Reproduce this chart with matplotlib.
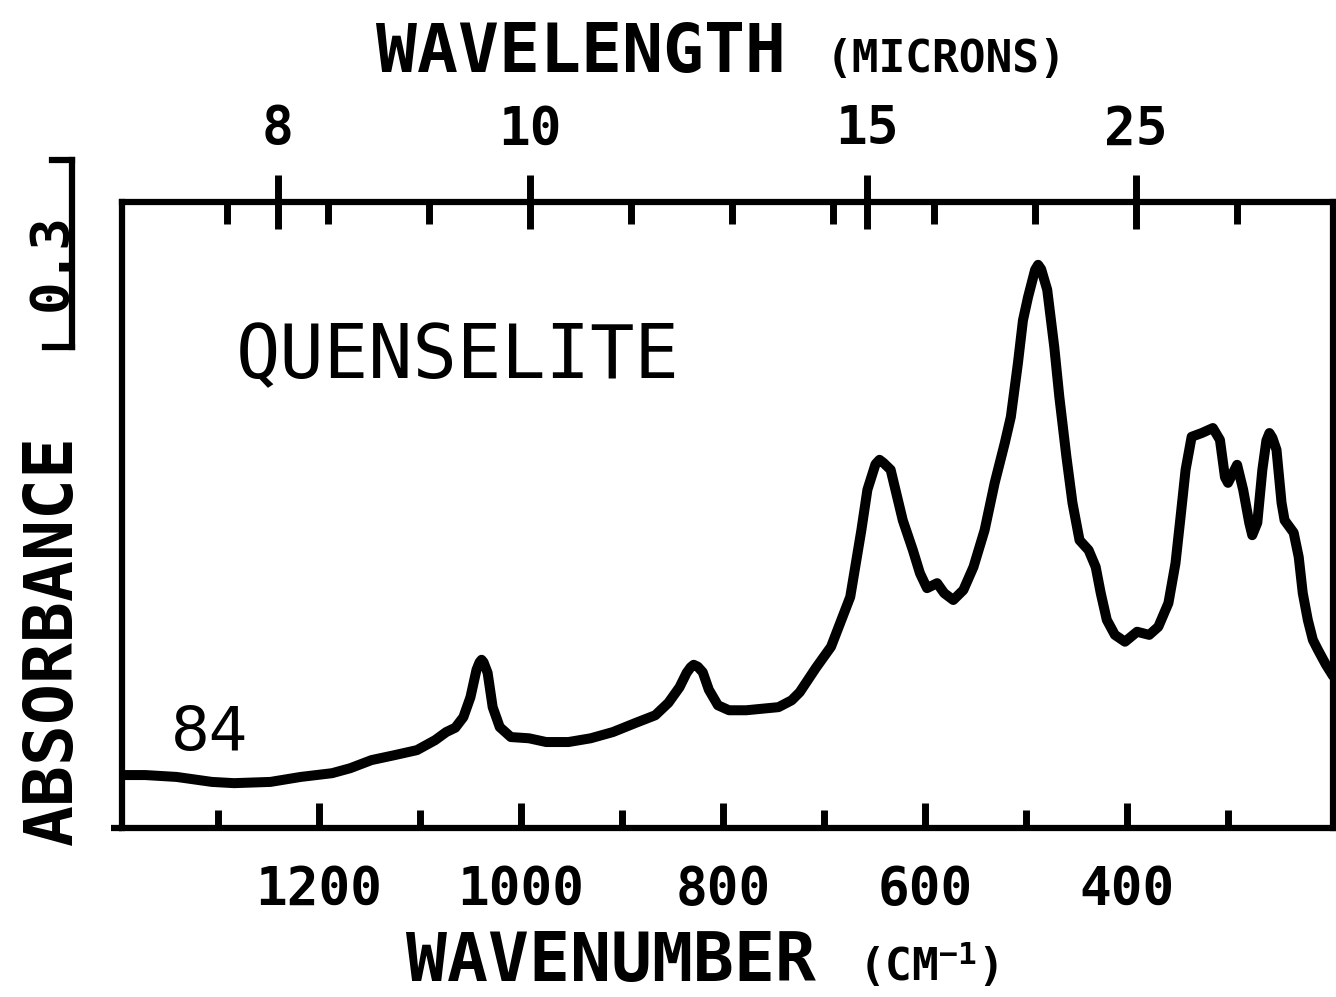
import matplotlib
matplotlib.use("Agg")
import matplotlib.pyplot as plt
import matplotlib.transforms as mtransforms

# Data (wavenumber in cm-1, absorbance)
wavenumber = [1396, 1372, 1341, 1306, 1284, 1248, 1218, 1187, 1169, 1148,
              1125, 1103, 1085, 1074, 1065, 1057, 1050, 1044, 1041, 1039, 1037, 1033,
              1028, 1021, 1010, 992, 975, 953, 931, 909, 886, 867,
              854, 843, 836, 832, 829, 825, 820, 814, 805, 794, 777, 745,
              732, 724, 708, 693, 674, 663, 657, 649, 645, 641, 634, 622,
              612, 605, 598, 588, 581, 572, 562, 552, 541, 531,
              521, 515, 508, 503, 498, 491, 488, 485, 479, 472, 467, 460,
              454, 447, 438, 431, 426, 420, 412, 402, 390, 378,
              369, 359, 352, 347, 342, 336, 326, 315, 308, 303,
              300, 291, 285, 279, 276, 271, 266, 262, 259, 256, 252, 247,
              244, 235, 230, 226, 221, 216, 211, 203, 196]
absorbance = [0.085, 0.085, 0.082, 0.074, 0.072, 0.074, 0.082, 0.088, 0.096, 0.109,
              0.117, 0.125, 0.141, 0.154, 0.161, 0.178, 0.210, 0.254, 0.266, 0.270, 0.266, 0.249,
              0.194, 0.162, 0.146, 0.144, 0.138, 0.138, 0.144, 0.154, 0.169, 0.181,
              0.201, 0.226, 0.249, 0.258, 0.262, 0.259, 0.250, 0.222, 0.197, 0.189, 0.189, 0.194,
              0.205, 0.218, 0.257, 0.291, 0.371, 0.478, 0.543, 0.584, 0.591, 0.586, 0.575, 0.494,
              0.446, 0.409, 0.385, 0.393, 0.377, 0.366, 0.382, 0.419, 0.478, 0.554,
              0.618, 0.660, 0.746, 0.815, 0.852, 0.896, 0.904, 0.897, 0.864, 0.772, 0.692, 0.596,
              0.522, 0.462, 0.446, 0.419, 0.377, 0.334, 0.310, 0.299, 0.315, 0.310,
              0.323, 0.361, 0.425, 0.499, 0.575, 0.628, 0.634, 0.642, 0.623, 0.563,
              0.554, 0.583, 0.543, 0.490, 0.470, 0.490, 0.575, 0.622, 0.634, 0.626, 0.607, 0.522,
              0.494, 0.474, 0.435, 0.377, 0.334, 0.302, 0.286, 0.262, 0.244]

wn_major = [1200, 1000, 800, 600, 400]
wn_minor = [1300, 1100, 900, 700, 500, 300]
micron_labels = ['8', '10', '15', '25']
micron_values = [8, 10, 15, 25]
top_minor = [1300, 1200, 1100, 1000, 900, 800, 700, 600, 500, 400, 300]
scale_bar = 0.3

plt.rcParams['mathtext.fontset'] = 'custom'
plt.rcParams['mathtext.rm'] = 'DejaVu Sans Mono:bold'

mono = 'DejaVu Sans Mono'
fig = plt.figure(figsize=(13.36, 9.97), dpi=100)
ax = fig.add_axes([0.0913, 0.1695, 0.9065, 0.628])

ax.plot(wavenumber, absorbance, color='black', lw=7.2,
        solid_joinstyle='round', solid_capstyle='round')
ax.set_xlim(1395, 196)
ax.set_ylim(0, 1.005)
ax.set_yticks([])

for s in ax.spines.values():
    s.set_linewidth(4.5)

ax.set_xticks(wn_major)
ax.set_xticklabels([str(v) for v in wn_major], fontfamily=mono,
                   fontweight='bold', fontsize=38)
ax.set_xticks(wn_minor, minor=True)
ax.tick_params(axis='x', which='major', direction='in', length=18, width=5, pad=26)
ax.tick_params(axis='x', which='minor', direction='in', length=13, width=5)

# bottom line runs a little past the left frame
ax.plot([-0.009, 0], [0, 0], transform=ax.transAxes, color='black',
        lw=4.5, clip_on=False, solid_capstyle='butt')

# wavelength scale on top (plotted a few cm-1 offset like the original)
ax2 = ax.twiny()
ax2.set_xlim(1404, 205)
for s in ax2.spines.values():
    s.set_visible(False)
ax2.set_xticks([10000 / m for m in micron_values])
ax2.set_xticklabels(micron_labels, fontfamily=mono, fontweight='bold', fontsize=38)
ax2.set_xticks(top_minor, minor=True)
ax2.tick_params(axis='x', which='major', direction='inout', length=39, width=5, pad=14)
ax2.tick_params(axis='x', which='minor', direction='in', length=16, width=5)

# absorbance scale bar outside the frame
tr = mtransforms.blended_transform_factory(ax.transAxes, ax.transData)
y0, y1 = 0.772, 0.772 + scale_bar
ax.plot([-0.0413, -0.0413], [y0, y1], transform=tr, color='black', lw=4.5, clip_on=False)
ax.plot([-0.0578, -0.0413], [y1, y1], transform=tr, color='black', lw=4.5, clip_on=False)
ax.plot([-0.0635, -0.0413], [y0, y0], transform=tr, color='black', lw=4.5, clip_on=False)
fig.text(67 / 1336, 1 - 262 / 997, '0.3', rotation=90, rotation_mode='anchor',
         ha='center', va='baseline', fontfamily=mono, fontweight='bold', fontsize=39)

fig.text(72 / 1336, 1 - 640 / 997, 'ABSORBANCE', rotation=90, rotation_mode='anchor',
         ha='center', va='baseline', fontfamily=mono, fontweight='bold', fontsize=49)

fig.text(376 / 1336, 1 - 72 / 997, 'WAVELENGTH', ha='left', va='baseline',
         fontfamily=mono, fontweight='bold', fontsize=49)
fig.text(826 / 1336, 1 - 72 / 997, '(MICRONS)', ha='left', va='baseline',
         fontfamily=mono, fontweight='bold', fontsize=32)

fig.text(406 / 1336, 1 - 981 / 997, 'WAVENUMBER', ha='left', va='baseline',
         fontfamily=mono, fontweight='bold', fontsize=49)
fig.text(858 / 1336, 1 - 981 / 997, r'(CM$^{\mathrm{-1}}$)', ha='left', va='baseline',
         fontfamily=mono, fontweight='bold', fontsize=32)

fig.text(236 / 1336, 1 - 378 / 997, 'QUENSELITE', ha='left', va='baseline',
         fontfamily=mono, fontsize=53)
fig.text(171 / 1336, 1 - 750 / 997, '84', ha='left', va='baseline',
         fontfamily='DejaVu Sans', fontsize=44)

fig.savefig('out.png', dpi=100)
